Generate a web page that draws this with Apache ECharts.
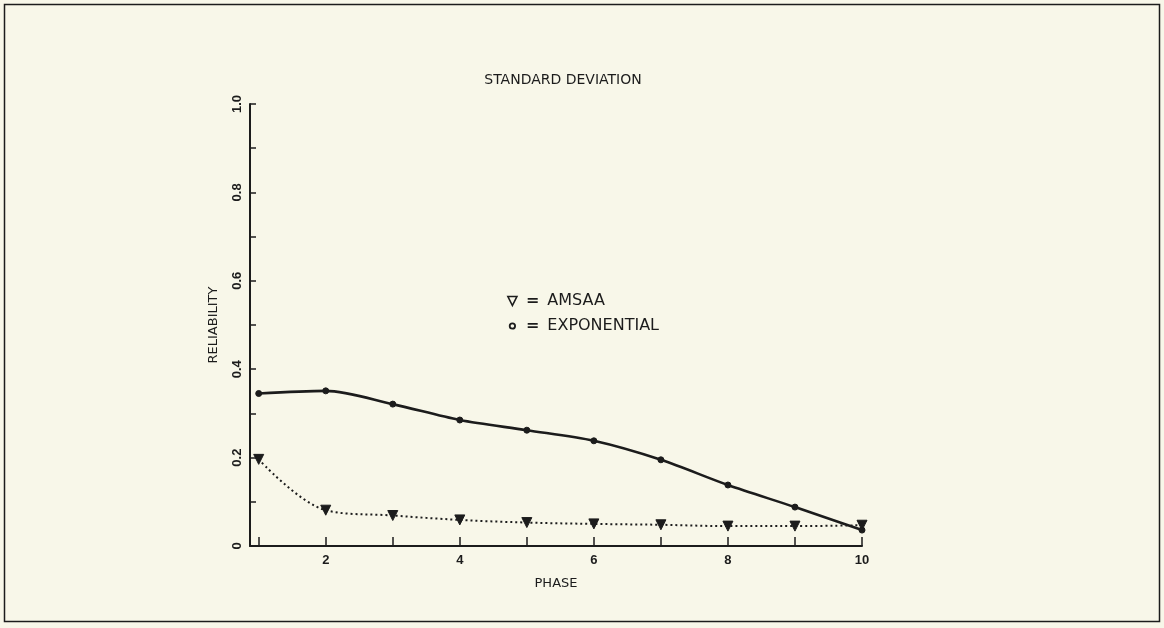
<!DOCTYPE html>
<html>
<head>
<meta charset="utf-8">
<script src="https://cdn.jsdelivr.net/npm/echarts@6/dist/echarts.min.js"></script>
<style>
html,body{margin:0;padding:0;background:#f8f7e9;}
#c{width:1164px;height:628px;}
</style>
</head>
<body>
<div id="c"></div>
<script>
var phases = [1, 2, 3, 4, 5, 6, 7, 8, 9, 10];
var amsaa = [0.196, 0.081, 0.069, 0.059, 0.053, 0.050, 0.048, 0.045, 0.045, 0.047];
var exponential = [0.345, 0.351, 0.321, 0.285, 0.262, 0.238, 0.195, 0.138, 0.088, 0.036];
var xTickValues = [1, 2, 3, 4, 5, 6, 7, 8, 9, 10];
var xLabelValues = [2, 4, 6, 8, 10];
var yLabelValues = [0, 0.2, 0.4, 0.6, 0.8, 1.0];

var ink = '#1c1c1c';
var font = '"Liberation Sans", Arial, sans-serif';
var wide = '"DejaVu Sans", sans-serif';
var chart = echarts.init(document.getElementById('c'), null, {renderer: 'canvas'});
var triPath = 'path://M0,0 L10,0 L5,10 Z';
var smallCircle = 'path://M0,0 M10,10 M5,2 A3,3 0 1,0 5.001,2 Z';

chart.setOption({
  backgroundColor: '#f8f7e9',
  animation: false,
  title: {
    text: 'STANDARD DEVIATION',
    left: 558, top: 68, textAlign: 'center',
    textStyle: {fontFamily: wide, fontSize: 14, fontWeight: 'normal', color: ink}
  },
  legend: {
    orient: 'vertical', left: 502, top: 286, itemGap: 5,
    itemWidth: 9, itemHeight: 9,
    data: [
      {name: 'AMSAA', icon: triPath, itemStyle: {color: 'rgba(0,0,0,0)', borderColor: ink, borderWidth: 1.6}},
      {name: 'EXPONENTIAL', icon: smallCircle, itemStyle: {color: 'rgba(0,0,0,0)', borderColor: ink, borderWidth: 1.8}}
    ],
    formatter: function (n) { return '{eq|=}' + n; },
    textStyle: {fontFamily: wide, fontSize: 16, color: ink, lineHeight: 20,
      rich: {eq: {fontFamily: wide, fontWeight: 'bold', fontSize: 16, color: ink, padding: [0, 8, 0, 4]}}}
  },
  grid: {left: 250, right: 302, top: 104, bottom: 82},
  xAxis: {
    type: 'value', min: 0.87, max: 10,
    name: 'PHASE', nameLocation: 'middle', nameGap: 31,
    nameTextStyle: {fontFamily: wide, fontSize: 13, color: ink},
    axisLine: {lineStyle: {color: ink, width: 2}},
    axisTick: {inside: true, length: 9, customValues: xTickValues, lineStyle: {color: ink, width: 1.5}},
    axisLabel: {customValues: xLabelValues, margin: 8, fontFamily: font, fontSize: 13, fontWeight: 'bold', color: ink},
    splitLine: {show: false}
  },
  yAxis: {
    type: 'value', min: 0, max: 1, interval: 0.1,
    name: 'RELIABILITY', nameLocation: 'middle', nameGap: 30, nameRotate: 90,
    nameTextStyle: {fontFamily: wide, fontSize: 13, color: ink},
    axisLine: {show: true, lineStyle: {color: ink, width: 2}},
    axisTick: {show: true, inside: true, length: 6, lineStyle: {color: ink, width: 1.5}},
    axisLabel: {
      customValues: yLabelValues, rotate: 90, margin: 6,
      fontFamily: font, fontSize: 13, fontWeight: 'bold', color: ink,
      formatter: function (v) { return v === 0 ? '0' : v.toFixed(1); }
    },
    splitLine: {show: false}
  },
  graphic: [{
    type: 'rect', shape: {x: 4.5, y: 4.5, width: 1155, height: 617},
    style: {fill: null, stroke: ink, lineWidth: 1.5}, silent: true
  }],
  series: [
    {
      name: 'AMSAA', type: 'line', smooth: 0.35,
      data: phases.map(function (p, i) { return [p, amsaa[i]]; }),
      symbol: triPath, symbolSize: [10, 10], symbolKeepAspect: true,
      itemStyle: {color: ink, borderColor: ink},
      lineStyle: {color: ink, width: 2, type: [2, 3]}
    },
    {
      name: 'EXPONENTIAL', type: 'line', smooth: 0.3,
      data: phases.map(function (p, i) { return [p, exponential[i]]; }),
      symbol: 'circle', symbolSize: 6,
      itemStyle: {color: ink, borderColor: ink},
      lineStyle: {color: ink, width: 2.6}
    }
  ]
});
</script>
</body>
</html>
